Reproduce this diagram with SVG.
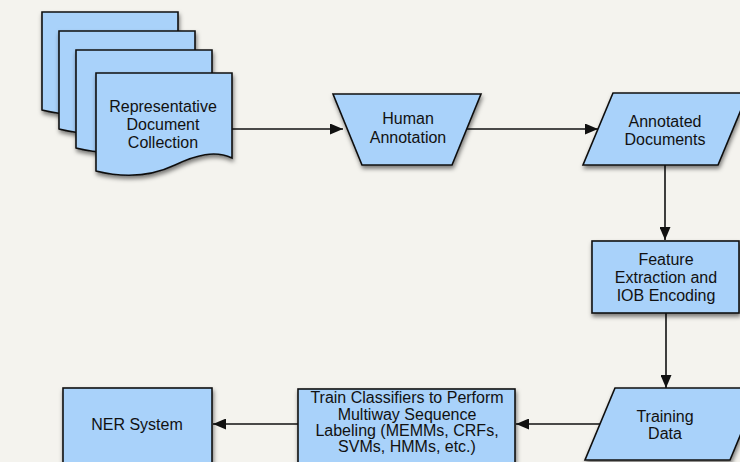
<svg xmlns="http://www.w3.org/2000/svg" width="740" height="462" viewBox="0 0 740 462">
<style>
.n{fill:#a9d2fa;stroke:#111;stroke-width:1.6;filter:url(#sh)}
.t{font-family:"Liberation Sans",Arial,sans-serif;font-size:16px;fill:#111;text-anchor:middle}
.c{fill:none;stroke:#111;stroke-width:1.6;marker-end:url(#ah)}
</style>
<defs>
<filter id="sh" x="-20%" y="-20%" width="150%" height="150%">
<feDropShadow dx="1" dy="3" stdDeviation="2.2" flood-color="#000" flood-opacity="0.5"/>
</filter>
<marker id="ah" viewBox="0 0 13 11" refX="13" refY="5.5" markerWidth="13" markerHeight="11" markerUnits="userSpaceOnUse" orient="auto">
<path d="M0,0 L13,5.5 L0,11 Z" fill="#111"/>
</marker>
<path id="doc" d="M0,0 H136 V85 C119,77 100,82 79,92 C58,102 32,106 0,98 Z"/>
</defs>
<rect width="740" height="462" fill="#f4f3ee"/>
<g id="connectors">
<path class="c" d="M232,129 H343"/>
<path class="c" d="M467,129 H598"/>
<path class="c" d="M665,165 V240"/>
<path class="c" d="M666,313 V388"/>
<path class="c" d="M601,424 H516"/>
<path class="c" d="M298,424 H213"/>
</g>
<g id="documents">
<use href="#doc" class="n" x="42" y="12"/>
<use href="#doc" class="n" x="59" y="31"/>
<use href="#doc" class="n" x="76" y="50"/>
<use href="#doc" class="n" x="96" y="73"/>
<text class="t" x="163" y="112">Representative</text>
<text class="t" x="163" y="130">Document</text>
<text class="t" x="163" y="148">Collection</text>
</g>
<g id="human">
<path class="n" d="M333,94 H481 L452,165 H362 Z"/>
<text class="t" x="408" y="124">Human</text>
<text class="t" x="408" y="143">Annotation</text>
</g>
<g id="annotated">
<path class="n" d="M613,93 H748 L718,165 H583 Z"/>
<text class="t" x="665" y="127">Annotated</text>
<text class="t" x="665" y="145">Documents</text>
</g>
<g id="feature">
<rect class="n" x="592" y="241" width="147" height="72"/>
<text class="t" x="666" y="265">Feature</text>
<text class="t" x="666" y="283">Extraction and</text>
<text class="t" x="666" y="301">IOB Encoding</text>
</g>
<g id="training">
<path class="n" d="M615,388 H760 L730,460 H585 Z"/>
<text class="t" x="665" y="422">Training</text>
<text class="t" x="665" y="439">Data</text>
</g>
<g id="train">
<rect class="n" x="298" y="389" width="217" height="80"/>
<text class="t" x="407" y="403">Train Classifiers to Perform</text>
<text class="t" x="407" y="420">Multiway Sequence</text>
<text class="t" x="407" y="436">Labeling (MEMMs, CRFs,</text>
<text class="t" x="407" y="452">SVMs, HMMs, etc.)</text>
</g>
<g id="ner">
<rect class="n" x="63" y="388" width="149" height="80"/>
<text class="t" x="137" y="430">NER System</text>
</g>
</svg>
